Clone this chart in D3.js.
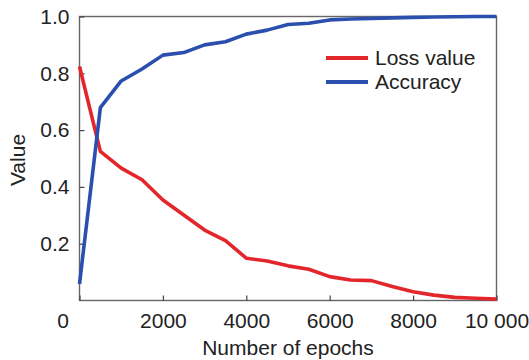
<!DOCTYPE html>
<html>
<head>
<meta charset="utf-8">
<script src="https://cdn.jsdelivr.net/npm/d3@7"></script>
<style>
  body { margin: 0; background: #fff; }
  text { font-family: "Liberation Sans", Arial, sans-serif; fill: #222; }
</style>
</head>
<body>
<div id="chart"></div>
<script>
// values
let epochs = [0, 500, 1000, 1500, 2000, 2500, 3000, 3500, 4000, 4500, 5000,
  5500, 6000, 6500, 7000, 7500, 8000, 8500, 9000, 9500, 10000]
let lossValues = [0.824, 0.525, 0.466, 0.425, 0.354, 0.301, 0.248, 0.211, 0.149, 0.139, 0.122,
  0.110, 0.084, 0.072, 0.070, 0.049, 0.031, 0.019, 0.011, 0.008, 0.005]
let accuracyValues = [0.058, 0.679, 0.773, 0.815, 0.864, 0.873, 0.900, 0.911, 0.938, 0.952, 0.972,
  0.976, 0.988, 0.991, 0.993, 0.995, 0.997, 0.998, 0.999, 1.0, 1.0]
let xTicks = [0, 2000, 4000, 6000, 8000, 10000]
let yTicks = [0.2, 0.4, 0.6, 0.8, 1.0]
let seriesNames = ['Loss value', 'Accuracy']

let margin = {top: 16.5, left: 79.5, right: 32.5, bottom: 59.5},
  width = 529 - margin.left - margin.right,
  height = 360 - margin.top - margin.bottom

let svg = d3.select('#chart').append('svg')
  .attr('width', 529)
  .attr('height', 360)

let g = svg.append('g').attr('transform', 'translate(' + margin.left + ',' + margin.top + ')')

let x = d3.scaleLinear().domain([0, 10000]).range([0, width])
let y = d3.scaleLinear().domain([0, 1]).range([height, 0])

let color = d3.scaleOrdinal().domain(seriesNames).range(['#e3262c', '#2b4fae'])

let series = [
  {id: 'Loss value', values: epochs.map(function(e, i) { return {epoch: e, v: lossValues[i]} })},
  {id: 'Accuracy', values: epochs.map(function(e, i) { return {epoch: e, v: accuracyValues[i]} })}
]

let line = d3.line()
  .x(function(d) { return x(d.epoch) })
  .y(function(d) { return y(d.v) })

// frame
g.append('rect')
  .attr('width', width)
  .attr('height', height)
  .attr('fill', 'none')
  .attr('stroke', '#666')
  .attr('stroke-width', 1.4)

// x axis, ticks point inward
let xAxis = g.append('g')
  .attr('transform', 'translate(0,' + height + ')')
  .call(d3.axisBottom(x).tickValues(xTicks).tickSizeInner(-5).tickSizeOuter(0).tickPadding(13)
    .tickFormat(function(d) { return d === 10000 ? '10\u00a0000' : d }))
xAxis.select('.domain').remove()
xAxis.selectAll('line').attr('stroke', '#444').attr('stroke-width', 1.2)
xAxis.selectAll('text')
  .style('font-size', '21px')
  .style('font-family', '"Liberation Sans", Arial, sans-serif')
  .attr('fill', '#222')
  .attr('dx', function(d) { return d === 0 ? -17 : 0 })

let yAxis = g.append('g')
  .call(d3.axisLeft(y).tickValues(yTicks).tickSizeInner(-5).tickSizeOuter(0).tickPadding(10)
    .tickFormat(d3.format('.1f')))
yAxis.select('.domain').remove()
yAxis.selectAll('line').attr('stroke', '#444').attr('stroke-width', 1.2)
yAxis.selectAll('text')
  .style('font-size', '21px')
  .style('font-family', '"Liberation Sans", Arial, sans-serif')
  .attr('fill', '#222')

// data lines
g.selectAll('.series')
  .data(series)
  .enter().append('path')
  .attr('class', 'series')
  .attr('d', function(d) { return line(d.values) })
  .attr('fill', 'none')
  .attr('stroke', function(d) { return color(d.id) })
  .attr('stroke-width', 3.6)
  .attr('stroke-linejoin', 'round')

// axis titles
svg.append('text')
  .attr('x', margin.left + width / 2)
  .attr('y', 355)
  .attr('text-anchor', 'middle')
  .style('font-size', '21px')
  .text('Number of epochs')

svg.append('text')
  .attr('transform', 'translate(25,' + 160 + ') rotate(-90)')
  .attr('text-anchor', 'middle')
  .style('font-size', '21px')
  .text('Value')

// legend
let legend = svg.selectAll('.legend')
  .data(seriesNames)
  .enter().append('g')
  .attr('class', 'legend')
  .attr('transform', function(d, i) { return 'translate(326,' + (58 + i * 24) + ')' })

legend.append('line')
  .attr('x1', 0).attr('x2', 42)
  .attr('stroke', color)
  .attr('stroke-width', 4)

legend.append('text')
  .attr('x', 49)
  .attr('dy', '0.35em')
  .style('font-size', '21px')
  .text(function(d) { return d })
</script>
</body>
</html>
